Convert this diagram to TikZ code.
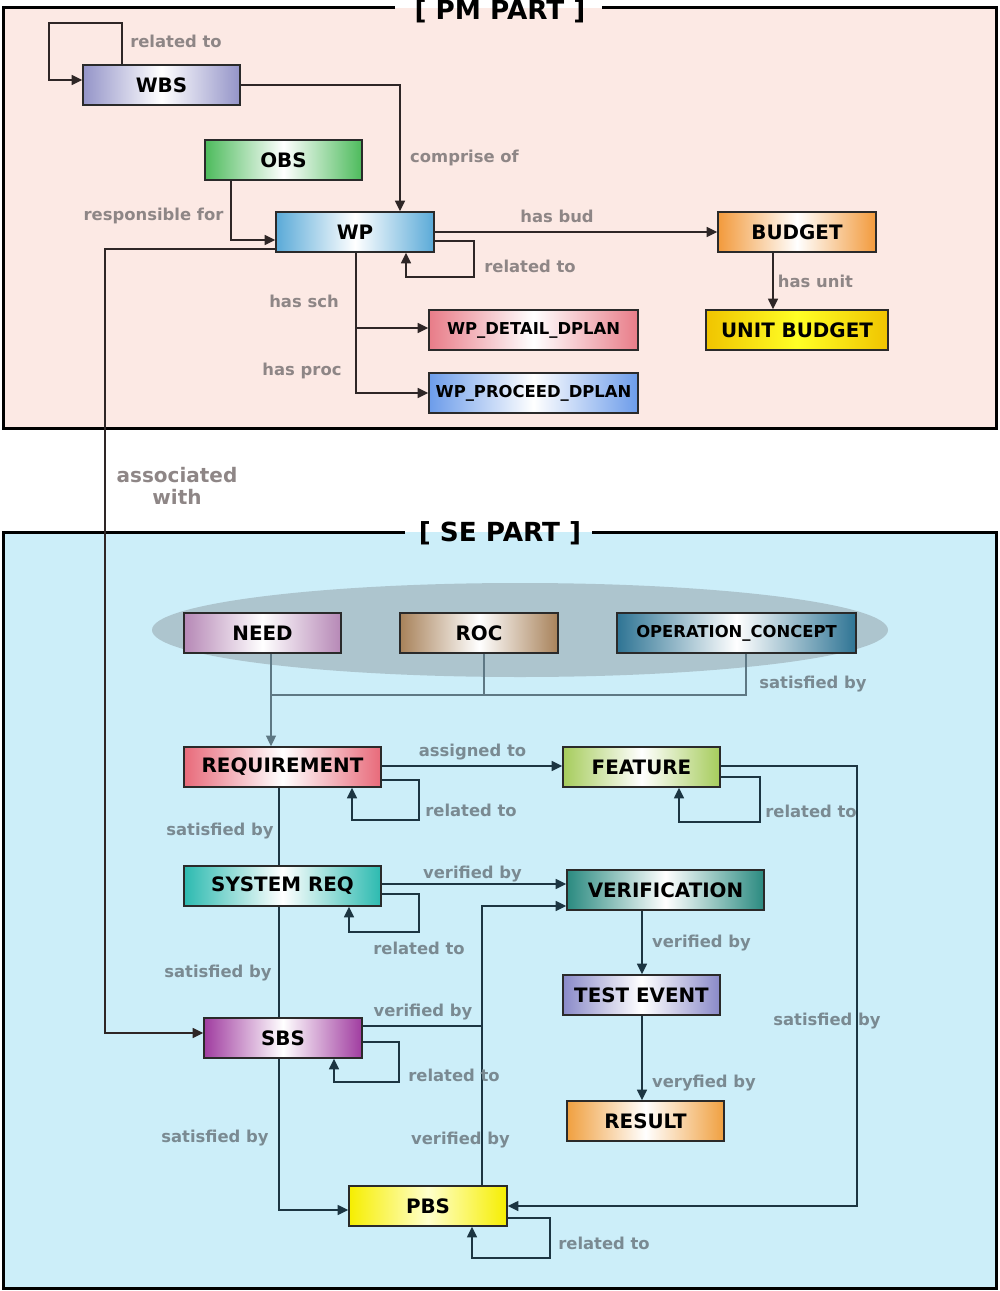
\documentclass[tikz,border=0pt]{standalone}
\usepackage{fontspec}
\setmainfont{DejaVu Sans}
\usetikzlibrary{arrows.meta,calc}
\definecolor{pmbg}{HTML}{FCE9E4}
\definecolor{sebg}{HTML}{CCEEF9}
\definecolor{ellc}{HTML}{ADC5CE}
\definecolor{boxline}{HTML}{2A2A2A}
\definecolor{pmln}{HTML}{2E2626}
\definecolor{seln}{HTML}{1C3542}
\definecolor{pmlabc}{HTML}{8E8686}
\definecolor{selabc}{HTML}{7A8A92}
\definecolor{sethin}{HTML}{5E7884}
\definecolor{cWBS}{HTML}{9494C8}
\definecolor{cOBS}{HTML}{4DBB5C}
\definecolor{cWP}{HTML}{5AAAD8}
\definecolor{cBUD}{HTML}{F29A3C}
\definecolor{cUB}{HTML}{F0C400}
\definecolor{cWPD}{HTML}{E87C88}
\definecolor{cWPP}{HTML}{6C9CEA}
\definecolor{cNEED}{HTML}{B688B6}
\definecolor{cROC}{HTML}{A8825A}
\definecolor{cOP}{HTML}{2E7494}
\definecolor{cREQ}{HTML}{E86A7A}
\definecolor{cFEAT}{HTML}{A6CC5C}
\definecolor{cSYS}{HTML}{2CBAB0}
\definecolor{cVER}{HTML}{2A8A80}
\definecolor{cTEST}{HTML}{8A8AC8}
\definecolor{cSBS}{HTML}{A03CA0}
\definecolor{cRES}{HTML}{F0A040}
\definecolor{cPBS}{HTML}{F6EE00}
\begin{document}
\begin{tikzpicture}[x=0.75pt,y=-0.75pt,
  box/.style={draw=boxline, line width=1.1pt, minimum height=30pt, inner sep=0pt,
    font=\bfseries\fontsize{14.9}{16}\selectfont, text=black},
  smallbox/.style={box, font=\bfseries\fontsize{12.3}{14}\selectfont},
  grad/.style={left color=#1, right color=#1, middle color=white},
  tip/.style={-{Triangle[length=8pt,width=7.5pt]}},
  pmline/.style={draw=pmln, line width=1.1pt},
  pmarr/.style={pmline, tip},
  seline/.style={draw=seln, line width=1.1pt},
  searr/.style={seline, tip},
  thinline/.style={draw=sethin, line width=0.8pt},
  thinarr/.style={thinline, tip},
  pmlab/.style={text=pmlabc, font=\bfseries\fontsize{12.3}{14}\selectfont, inner sep=0pt},
  selab/.style={text=selabc, font=\bfseries\fontsize{12.3}{14}\selectfont, inner sep=0pt},
  title/.style={font=\bfseries\fontsize{19.7}{22}\selectfont, text=black, inner sep=0pt},
  frame/.style={line width=2.25pt, draw=black, line join=miter}
]
\useasboundingbox (0,0) rectangle (999,1291);

% frames
\fill[pmbg] (3,8) rectangle (996,428);
\draw[frame] (395,8) -- (3,8) -- (3,428) -- (996,428) -- (996,8) -- (602,8);
\fill[sebg] (3,532) rectangle (996,1288);
\draw[frame] (405,532) -- (3,532) -- (3,1288) -- (996,1288) -- (996,532) -- (592,532);
\node[title] (pmtitle) at (500,11) {[ PM PART ]};
\node[title] (setitle) at (500,533) {[ SE PART ]};
\fill[ellc] (520,630) ellipse [x radius=276pt, y radius=35.25pt];

% PM nodes
\node[box,grad=cWBS,minimum width=117.75pt] (WBS) at (161.5,85) {WBS};
\node[box,grad=cOBS,minimum width=117.75pt] (OBS) at (283.5,160) {OBS};
\node[box,grad=cWP,minimum width=118.5pt] (WP) at (355,232) {WP};
\node[box,grad=cBUD,minimum width=118.5pt] (BUD) at (797,232) {BUDGET};
\node[box,grad=cUB,middle color=yellow!85!white,minimum width=136.5pt] (UB) at (797,330) {UNIT BUDGET};
\node[smallbox,grad=cWPD,minimum width=156.75pt] (WPD) at (533.5,330) {WP\_DETAIL\_DPLAN};
\node[smallbox,grad=cWPP,minimum width=156.75pt] (WPP) at (533.5,393) {WP\_PROCEED\_DPLAN};

% SE nodes
\node[box,grad=cNEED,minimum width=117.75pt] (NEED) at (262.5,633) {NEED};
\node[box,grad=cROC,minimum width=118.5pt] (ROC) at (479,633) {ROC};
\node[smallbox,grad=cOP,minimum width=179.25pt] (OP) at (736.5,633) {OPERATION\_CONCEPT};
\node[box,grad=cREQ,minimum width=147.75pt] (REQ) at (282.5,767) {REQUIREMENT};
\node[box,grad=cFEAT,minimum width=117.75pt] (FEAT) at (641.5,767) {FEATURE};
\node[box,grad=cSYS,minimum width=147.75pt] (SYS) at (282.5,886) {SYSTEM REQ};
\node[box,grad=cVER,minimum width=147.75pt] (VER) at (665.5,890) {VERIFICATION};
\node[box,grad=cTEST,minimum width=117.75pt] (TEST) at (641.5,995) {TEST EVENT};
\node[box,grad=cSBS,minimum width=118.5pt] (SBS) at (283,1038) {SBS};
\node[box,grad=cRES,minimum width=117.75pt] (RES) at (645.5,1121) {RESULT};
\node[box,grad=cPBS,middle color=yellow!20!white,minimum width=118.5pt] (PBS) at (428,1206) {PBS};

% PM connectors
\draw[pmarr] (WBS.north -| 122,0) |- (49,23) |- (WBS.west |- 0,80);
\draw[pmarr] (WBS.east) -| (WP.north -| 400,0);
\draw[pmarr] (OBS.south -| 231,0) |- (WP.west |- 0,240);
\draw[pmarr] (WP.west |- 0,249) -| (105,1033) -- (SBS.west |- 0,1033);
\draw[pmarr] (WP.east) -- (BUD.west);
\draw[pmarr] (WP.east |- 0,241) -| (474,277) -| (WP.south -| 406,0);
\draw[pmarr] (WP.south -| 356,0) |- (WPD.west |- 0,328);
\draw[pmarr] (WP.south -| 356,0) |- (WPP.west);
\draw[pmarr] (BUD.south -| 773,0) -- (UB.north -| 773,0);

% SE connectors
\coordinate (NJ) at (271,695);
\draw[thinline] (NEED.south -| 271,0) -- (NJ) -- (746,695) -- (OP.south -| 746,0);
\draw[thinline] (ROC.south -| 484,0) -- (484,695);
\draw[thinarr] (NJ) -- (REQ.north -| 271,0);
\draw[searr] (REQ.east |- 0,766) -- (FEAT.west |- 0,766);
\draw[searr] (REQ.east |- 0,780) -| (419,820) -| (REQ.south -| 352,0);
\draw[seline] (REQ.south -| 279,0) -- (SYS.north -| 279,0);
\draw[searr] (SYS.east |- 0,884) -- (VER.west |- 0,884);
\draw[searr] (SYS.east |- 0,894) -| (419,932) -| (SYS.south -| 349,0);
\draw[seline] (SYS.south -| 279,0) -- (SBS.north -| 279,0);
\coordinate (J) at (482,1026);
\draw[searr] (PBS.north -| 482,0) |- (VER.west |- 0,906);
\draw[seline] (SBS.east |- 0,1026) -- (J);
\draw[searr] (SBS.east |- 0,1042) -| (399,1082) -| (SBS.south -| 334,0);
\draw[searr] (SBS.south -| 279,0) |- (PBS.west |- 0,1210);
\draw[searr] (PBS.east |- 0,1218) -| (550,1258) -| (PBS.south -| 472,0);
\draw[searr] (FEAT.east |- 0,766) -| (857,1206) -- (PBS.east |- 0,1206);
\draw[searr] (FEAT.east |- 0,777) -| (760,822) -| (FEAT.south -| 679,0);
\draw[searr] (VER.south -| 642,0) -- (TEST.north -| 642,0);
\draw[searr] (TEST.south -| 642,0) -- (RES.north -| 642,0);

% PM labels
\node[pmlab] (l1) at (176,41) {related to};
\node[pmlab] (l2) at (464.5,158) {comprise of};
\node[pmlab] (l3) at (153.5,216) {responsible for};
\node[pmlab] (l4) at (557,216) {has bud};
\node[pmlab] (l5) at (530,266) {related to};
\node[pmlab] (l6) at (304,301) {has sch};
\node[pmlab] (l7) at (302,371) {has proc};
\node[pmlab] (l8) at (815.5,281) {has unit};
\node[pmlab, font=\bfseries\fontsize{15}{16.5}\selectfont, align=center] (l9) at (177,486) {associated\\with};

% SE labels
\node[selab] (s1) at (813,684) {satisfied by};
\node[selab] (s2) at (472.5,752) {assigned to};
\node[selab] (s3) at (471,810) {related to};
\node[selab] (s4) at (811,811) {related to};
\node[selab] (s5) at (220,831) {satisfied by};
\node[selab] (s6) at (472.5,874) {verified by};
\node[selab] (s7) at (419,948) {related to};
\node[selab] (s8) at (701.5,943) {verified by};
\node[selab] (s9) at (218,973) {satisfied by};
\node[selab] (s10) at (423,1012) {verified by};
\node[selab] (s11) at (827,1021) {satisfied by};
\node[selab] (s12) at (454,1075) {related to};
\node[selab] (s13) at (704,1083) {veryfied by};
\node[selab] (s14) at (215,1138) {satisfied by};
\node[selab] (s15) at (460.5,1140) {verified by};
\node[selab] (s16) at (604,1243) {related to};
\end{tikzpicture}
\end{document}
